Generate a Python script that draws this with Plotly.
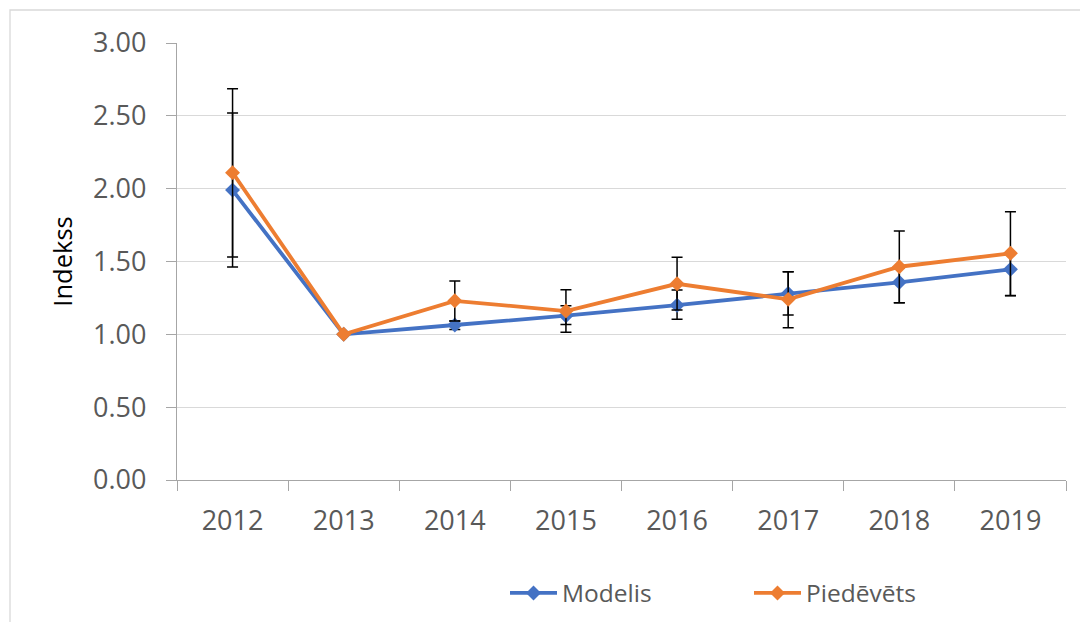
import plotly.graph_objects as go

years = ["2012", "2013", "2014", "2015", "2016", "2017", "2018", "2019"]
modelis = [1.99, 1.00, 1.064, 1.128, 1.20, 1.281, 1.357, 1.446]
piedevets = [2.11, 1.00, 1.23, 1.16, 1.347, 1.24, 1.464, 1.556]
modelis_err_plus = [0.529, None, 0.027, 0.068, 0.105, 0.149, 0.10, 0.11]
modelis_err_minus = [0.528, None, 0.030, 0.060, 0.096, 0.149, 0.14, 0.181]
piedevets_err_plus = [0.576, None, 0.136, 0.146, 0.182, 0.19, 0.245, 0.286]
piedevets_err_minus = [0.579, None, 0.139, 0.145, 0.18, 0.195, 0.247, 0.29]
y_ticks = [0, 0.5, 1.0, 1.5, 2.0, 2.5, 3.0]

BLUE = "#4472C4"
ORANGE = "#ED7D31"
FONT = "Open Sans"

# page has an 8px body margin; figure coordinates = page - 8
OFF = 8
W, H = 1080, 614
L, T = 177 - OFF, 43 - OFF
R = W - (1066 - OFF)
B = H - (480 - OFF)
pw, ph = W - L - R, H - T - B


def px(xpage):
    return (xpage - OFF - L) / pw


def py(ypage):
    return (H - B - (ypage - OFF)) / ph


fig = go.Figure()
for name, vals, ep, em, col in [
    ("Modelis", modelis, modelis_err_plus, modelis_err_minus, BLUE),
    ("Piedēvēts", piedevets, piedevets_err_plus, piedevets_err_minus, ORANGE),
]:
    fig.add_trace(go.Scatter(
        x=years, y=vals, name=name, mode="lines+markers",
        line=dict(color=col, width=3.8),
        marker=dict(symbol="diamond", size=11.5, color=col),
        error_y=dict(type="data", symmetric=False, array=ep, arrayminus=em,
                     color="#000000", thickness=1.5, width=5.5),
    ))

fig.update_layout(
    width=W, height=H,
    margin=dict(l=L, r=R, t=T, b=B, autoexpand=False),
    paper_bgcolor="white", plot_bgcolor="white",
    font=dict(family=FONT, color="#595959"),
    showlegend=True,
    legend=dict(
        orientation="h", x=px(505), xanchor="left",
        y=py(593), yanchor="middle",
        font=dict(family=FONT, size=24.5, color="#595959"),
        itemwidth=47, entrywidth=182, entrywidthmode="pixels",
        bgcolor="rgba(0,0,0,0)",
    ),
    xaxis=dict(
        type="category", range=[-0.5, 7.5],
        showgrid=False, showline=True, linecolor="#A6A6A6", linewidth=1.3,
        ticks="outside", tickson="boundaries", ticklen=10, tickcolor="#A6A6A6",
        tickwidth=1.3,
        tickfont=dict(family=FONT, size=27, color="#595959"),
        ticklabelstandoff=16,
    ),
    yaxis=dict(
        range=[0, 3], tickvals=y_ticks, tickformat=".2f",
        showgrid=True, gridcolor="#D9D9D9", gridwidth=1.3,
        showline=True, linecolor="#A6A6A6", linewidth=1.3,
        ticks="outside", ticklen=10, tickcolor="#A6A6A6", tickwidth=1.3,
        tickfont=dict(family=FONT, size=27, color="#595959"),
        ticklabelstandoff=14,
        zeroline=False,
        title=dict(text="Indekss", font=dict(family=FONT, size=25.5, color="#000000"),
                   standoff=13),
    ),
    shapes=[dict(
        type="rect", xref="paper", yref="paper",
        x0=px(10), x1=px(1110),
        y0=py(650), y1=py(10),
        line=dict(color="#D9D9D9", width=1.3), fillcolor="rgba(0,0,0,0)",
        layer="below",
    )],
)

fig.write_html("out.html")
